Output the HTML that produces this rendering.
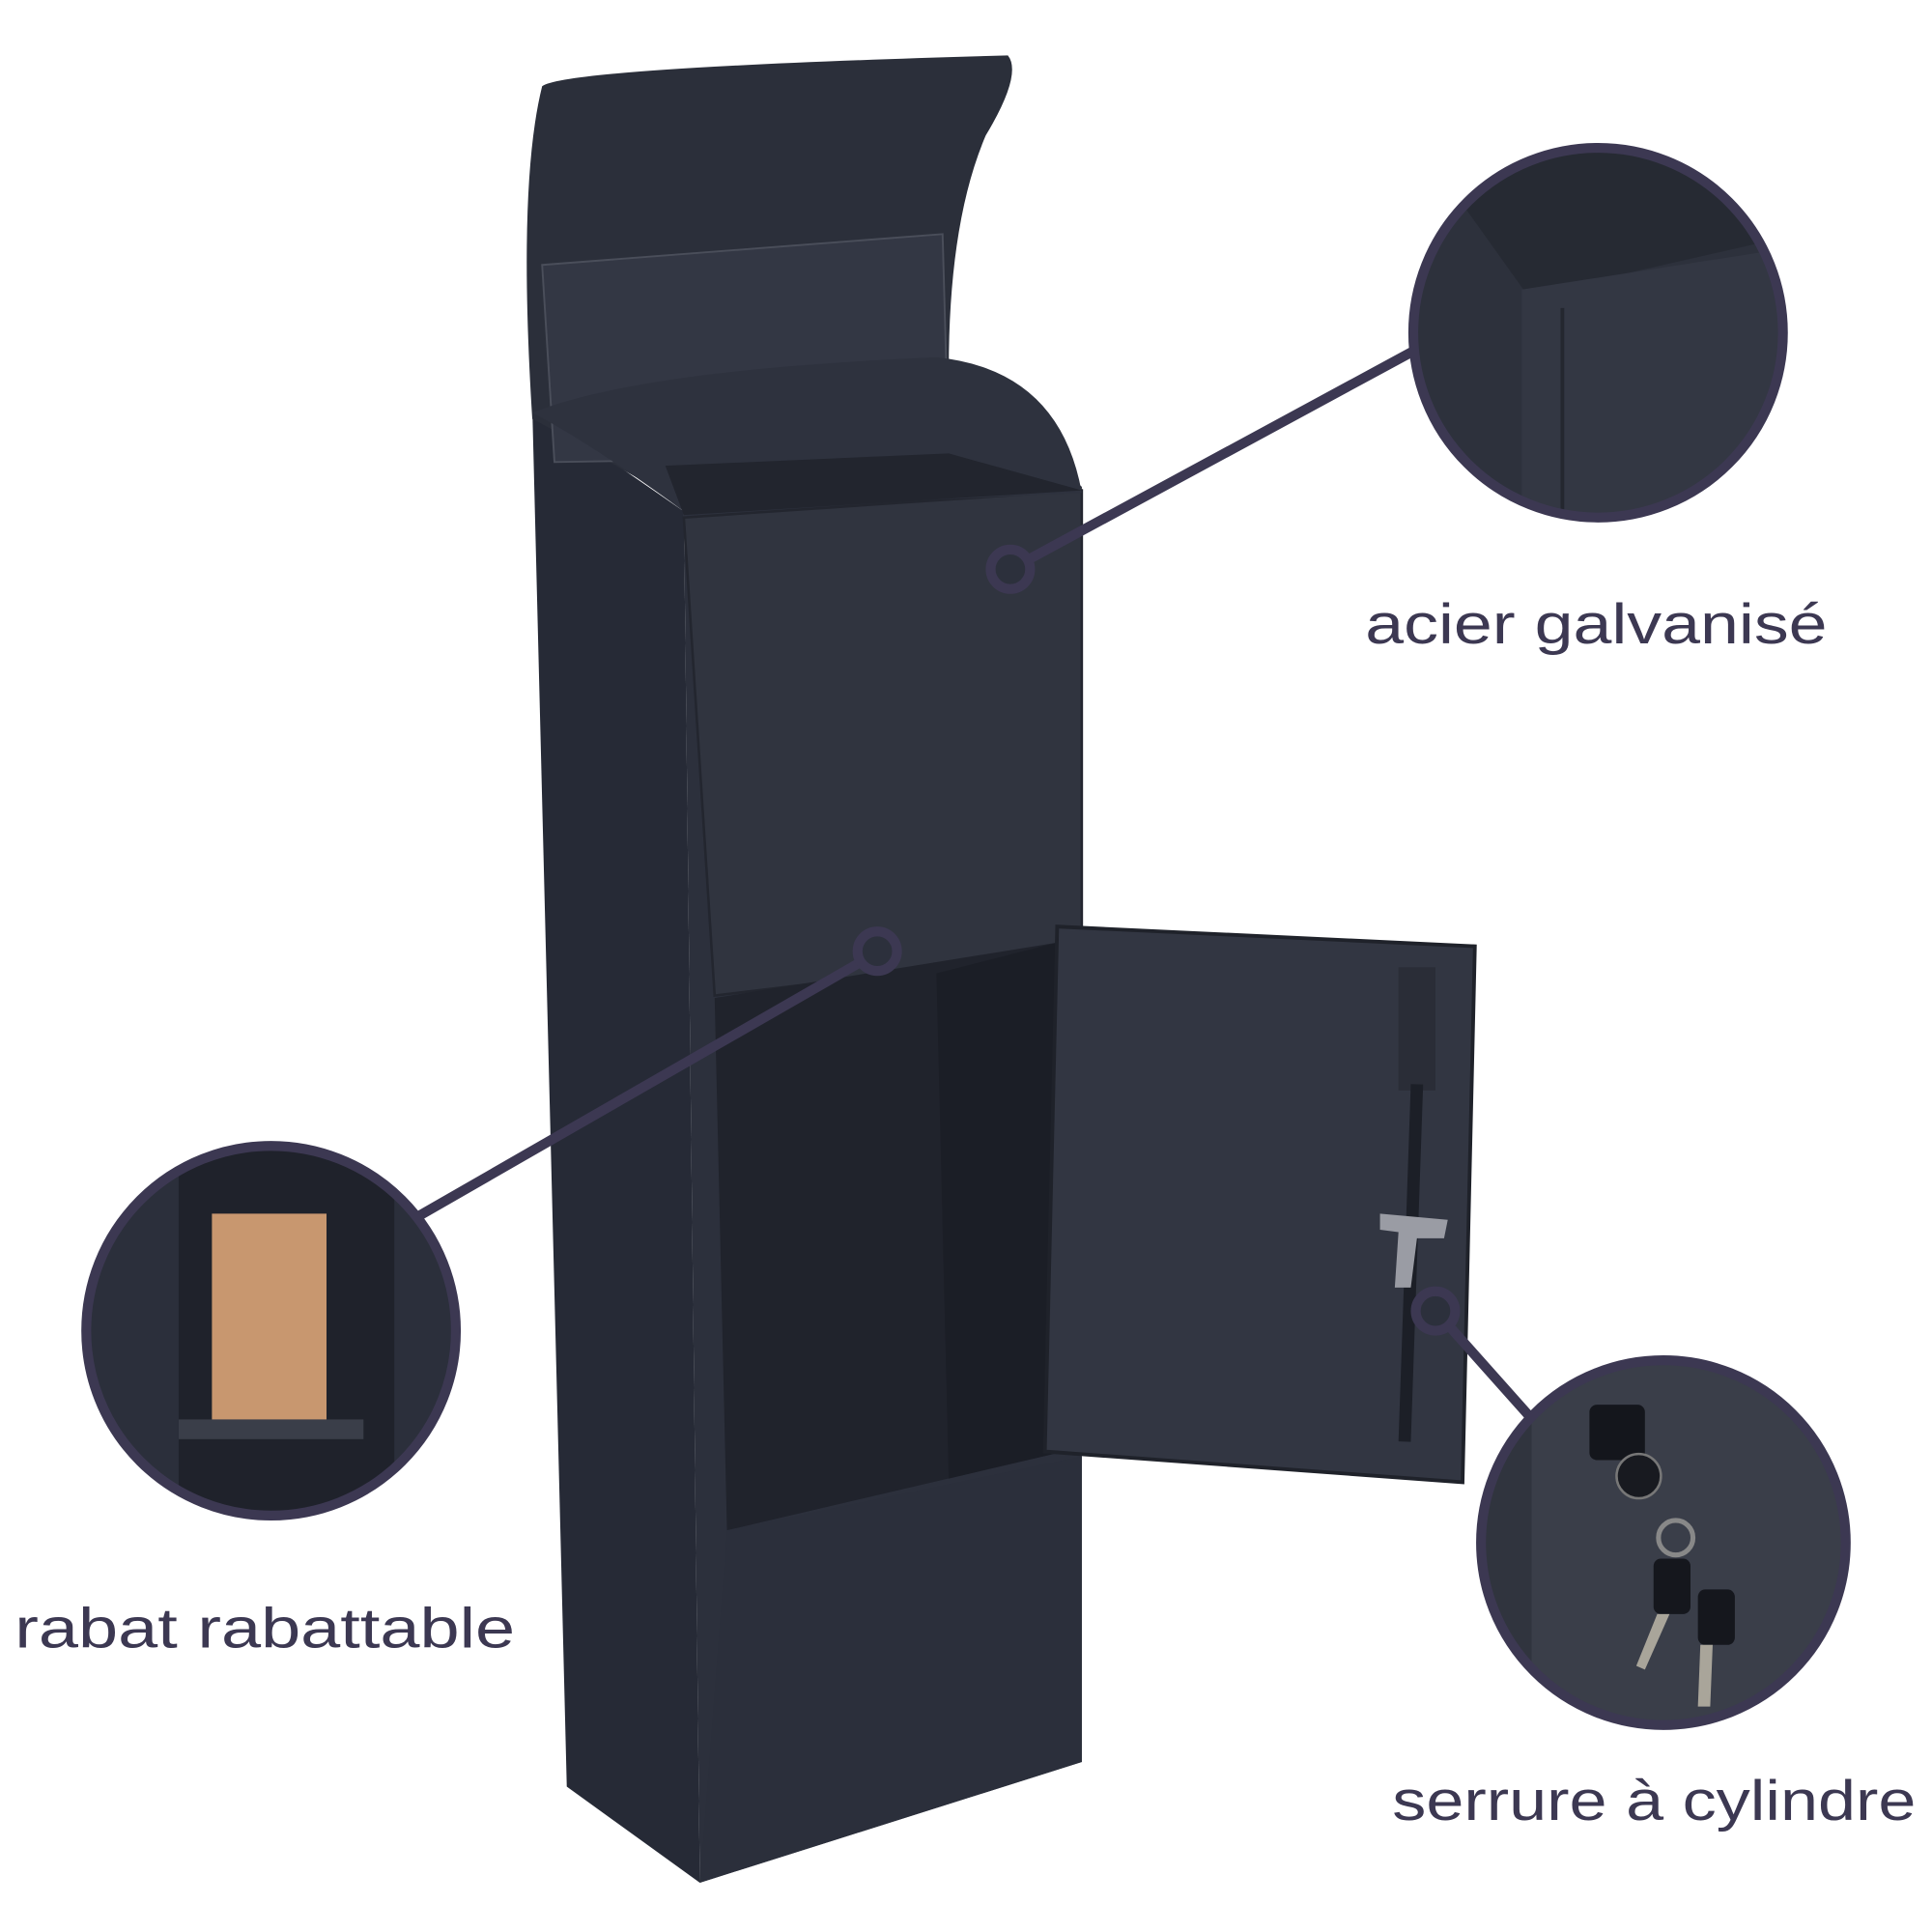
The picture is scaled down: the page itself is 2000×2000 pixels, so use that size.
<!DOCTYPE html>
<html><head><style>html,body{margin:0;padding:0;background:#fff}svg{display:block}</style></head>
<body>
<svg width="2000" height="2000" viewBox="0 0 1568 1568" xmlns="http://www.w3.org/2000/svg">
<rect width="1568" height="1568" fill="#fff"/>
<defs>
<clipPath id="c1"><circle cx="1297" cy="270" r="150"/></clipPath>
<clipPath id="c2"><circle cx="220" cy="1080" r="150"/></clipPath>
<clipPath id="c3"><circle cx="1350" cy="1252" r="148"/></clipPath>
</defs>
<!-- side face -->
<polygon points="432,330 555,415 568,1528 460,1450" fill="#262a36"/>
<!-- front face -->
<polygon points="555,415 878,395 878,1430 568,1528" fill="#2c303c"/>
<!-- upper door -->
<polygon points="555,420 878,398 878,772 580,808" fill="#30343f" stroke="#23262f" stroke-width="2"/>
<!-- cavity -->
<polygon points="580,810 858,765 855,1180 590,1242" fill="#20232c"/>
<polygon points="760,790 858,765 855,1180 770,1200" fill="#1b1e26"/>
<!-- bottom panel -->
<polygon points="590,1242 878,1182 878,1430 568,1528" fill="#2b2f3b"/>
<!-- lid back -->
<path d="M432,340 Q420,150 440,70 Q460,55 818,45 Q830,60 800,110 Q770,180 770,300 L878,395 L555,410 Q470,360 432,340 Z" fill="#2b2f3a"/>
<path d="M440,215 L765,190 L770,370 L450,375 Z" fill="#333744" stroke="#4a4e5a" stroke-width="1.5"/>
<path d="M432,335 Q520,300 760,290 Q860,300 878,400 L555,415 Q480,360 432,335 Z" fill="#2e323e"/>
<polygon points="540,378 770,368 878,398 555,418" fill="#22252e"/>
<!-- open door -->
<polygon points="858,752 1197,768 1187,1203 848,1178" fill="#323642" stroke="#1f222a" stroke-width="3"/>
<rect x="1135" y="785" width="30" height="100" fill="#2a2d37"/>
<line x1="1150" y1="880" x2="1140" y2="1170" stroke="#1c1f27" stroke-width="10"/>
<polygon points="1120,985 1175,990 1172,1005 1150,1005 1145,1045 1132,1045 1135,1000 1120,998" fill="#9a9ca4"/>
<!-- callout lines -->
<g stroke="#3c3852" stroke-width="8" fill="none">
<line x1="833" y1="455" x2="1147" y2="285"/>
<line x1="700" y1="780" x2="338" y2="988"/>
<line x1="1175" y1="1075" x2="1240" y2="1148"/>
</g>
<g fill="#2c303c" stroke="#3c3852" stroke-width="8">
<circle cx="820" cy="462" r="16"/>
<circle cx="712" cy="772" r="16"/>
<circle cx="1165" cy="1064" r="16"/>
</g>
<!-- circle 1 -->
<g clip-path="url(#c1)">
<rect x="1140" y="110" width="320" height="320" fill="#2d313c"/>
<polygon points="1140,110 1460,110 1460,190 1240,240 1190,170 1140,170" fill="#262a33"/>
<polygon points="1235,235 1460,200 1460,430 1235,430" fill="#333743"/>
<line x1="1268" y1="250" x2="1268" y2="430" stroke="#24272f" stroke-width="3"/>
</g>
<circle cx="1297" cy="270" r="150" fill="none" stroke="#3c3852" stroke-width="8"/>
<!-- circle 2 -->
<g clip-path="url(#c2)">
<rect x="60" y="920" width="320" height="320" fill="#2b2f3b"/>
<rect x="145" y="920" width="175" height="320" fill="#1f222b"/>
<rect x="172" y="985" width="93" height="168" fill="#c8976f"/>
<rect x="145" y="1152" width="150" height="16" fill="#3a3e49"/>
</g>
<circle cx="220" cy="1080" r="150" fill="none" stroke="#3c3852" stroke-width="8"/>
<!-- circle 3 -->
<g clip-path="url(#c3)">
<rect x="1195" y="1100" width="320" height="310" fill="#3a3e49"/>
<rect x="1195" y="1100" width="48" height="310" fill="#30343e"/>
<rect x="1290" y="1140" width="45" height="45" rx="6" fill="#14161c"/>
<circle cx="1330" cy="1198" r="18" fill="#181a20" stroke="#777" stroke-width="2"/>
<circle cx="1360" cy="1248" r="14" fill="none" stroke="#888" stroke-width="4"/>
<rect x="1342" y="1265" width="30" height="45" rx="6" fill="#15171d"/>
<rect x="1378" y="1290" width="30" height="45" rx="6" fill="#15171d"/>
<polygon points="1345,1310 1355,1310 1335,1355 1328,1352" fill="#a9a59a"/>
<polygon points="1380,1335 1390,1335 1388,1385 1378,1385" fill="#a9a59a"/>
</g>
<circle cx="1350" cy="1252" r="148" fill="none" stroke="#3c3852" stroke-width="8"/>
<!-- labels -->
<g font-family="Liberation Sans, sans-serif" font-size="46" fill="#3c3852">
<text x="1108" y="522" textLength="375" lengthAdjust="spacingAndGlyphs">acier galvanisé</text>
<text x="12" y="1337" textLength="406" lengthAdjust="spacingAndGlyphs">rabat rabattable</text>
<text x="1130" y="1477" textLength="425" lengthAdjust="spacingAndGlyphs">serrure à cylindre</text>
</g>
</svg>
</body></html>
